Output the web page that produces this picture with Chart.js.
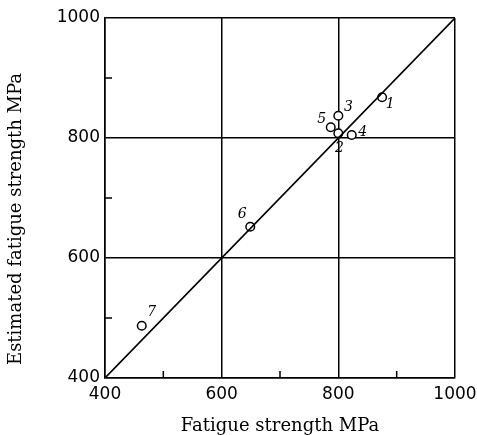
<!DOCTYPE html>
<html>
<head>
<meta charset="utf-8">
<script src="https://cdn.jsdelivr.net/npm/chart.js@4/dist/chart.umd.min.js"></script>
<style>
  html, body { margin: 0; padding: 0; background: #fff; }
  #wrap { width: 477px; height: 435px; }
</style>
</head>
<body>
<div id="wrap"><canvas id="myChart"></canvas></div>
<script>
// measured points (fatigue strength vs estimated), numbered as in the figure
var pointLabels = ['1', '2', '3', '4', '5', '6', '7'];
var measured = [875, 800, 800, 823, 787, 649, 463];
var estimated = [868, 808, 837, 805, 818, 652, 487];
// the 1:1 line
var lineX = [400, 1000];
var lineY = [400, 1000];
var majorTicks = [400, 600, 800, 1000];
var minorTicks = [500, 700, 900];

var labelOffsets = [[8, 7], [1, 15], [10, -8], [11, -3], [-9, -8], [-8, -12], [10, -13]];

var points = measured.map(function (x, i) { return { x: x, y: estimated[i] }; });
var line = lineX.map(function (x, i) { return { x: x, y: lineY[i] }; });

var extras = {
  id: 'extras',
  afterDatasetsDraw: function (chart) {
    var ctx = chart.ctx, xs = chart.scales.x, ys = chart.scales.y;
    var a = chart.chartArea;
    ctx.save();
    // short inward ticks
    ctx.strokeStyle = '#000';
    ctx.lineWidth = 1.5;
    minorTicks.forEach(function (v) {
      var px = xs.getPixelForValue(v);
      ctx.beginPath(); ctx.moveTo(px, a.bottom); ctx.lineTo(px, a.bottom - 7); ctx.stroke();
      var py = ys.getPixelForValue(v);
      ctx.beginPath(); ctx.moveTo(a.left, py); ctx.lineTo(a.left + 7, py); ctx.stroke();
    });
    // point numbers
    ctx.fillStyle = '#000';
    ctx.font = 'italic 14px "DejaVu Serif"';
    ctx.textAlign = 'center';
    ctx.textBaseline = 'middle';
    points.forEach(function (p, i) {
      var px = xs.getPixelForValue(p.x) + labelOffsets[i][0];
      var py = ys.getPixelForValue(p.y) + labelOffsets[i][1];
      ctx.fillText(pointLabels[i], px, py);
    });
    // y axis title
    ctx.font = '18px "DejaVu Serif"';
    ctx.translate(16, 219);
    ctx.rotate(-Math.PI / 2);
    ctx.fillText('Estimated fatigue strength MPa', 0, 0);
    ctx.restore();
  }
};

function gridColor(c) {
  return majorTicks.indexOf(c.tick.value) >= 0 ? '#000' : 'rgba(0,0,0,0)';
}

var chart = new Chart(document.getElementById('myChart'), {
  type: 'scatter',
  data: {
    datasets: [{
      type: 'line',
      data: line,
      borderColor: '#000',
      borderWidth: 1.6,
      pointRadius: 0,
      fill: false
    }, {
      data: points,
      pointRadius: 4.3,
      pointBackgroundColor: '#fff',
      pointBorderColor: '#000',
      pointBorderWidth: 1.5
    }]
  },
  plugins: [extras],
  options: {
    responsive: true,
    maintainAspectRatio: false,
    animation: false,
    layout: { padding: { top: 18, right: 22, left: 0, bottom: 0 } },
    plugins: { legend: { display: false }, tooltip: { enabled: false } },
    scales: {
      x: {
        min: 400, max: 1000,
        afterFit: function (s) { s.height = 57; s.paddingRight = 0; s.paddingLeft = 0; },
        ticks: {
          stepSize: 100, autoSkip: false, maxRotation: 0, padding: 6,
          color: '#000', font: { family: 'DejaVu Sans', size: 17 },
          callback: function (v) { return majorTicks.indexOf(v) >= 0 ? v : ''; }
        },
        grid: { color: gridColor, lineWidth: 1.5, drawTicks: false },
        border: { color: '#000', width: 1.5 },
        title: {
          display: true, text: 'Fatigue strength MPa', color: '#000',
          font: { family: 'DejaVu Serif', size: 18 }, padding: { top: 6, bottom: -2 }
        }
      },
      y: {
        min: 400, max: 1000,
        afterFit: function (s) { s.width = 105; s.paddingTop = 0; s.paddingBottom = 0; },
        ticks: {
          stepSize: 100, autoSkip: false, padding: 5,
          color: '#000', font: { family: 'DejaVu Sans', size: 17 },
          callback: function (v) { return majorTicks.indexOf(v) >= 0 ? v : ''; }
        },
        grid: { color: gridColor, lineWidth: 1.5, drawTicks: false },
        border: { color: '#000', width: 1.5 }
      }
    }
  }
});
</script>
</body>
</html>
